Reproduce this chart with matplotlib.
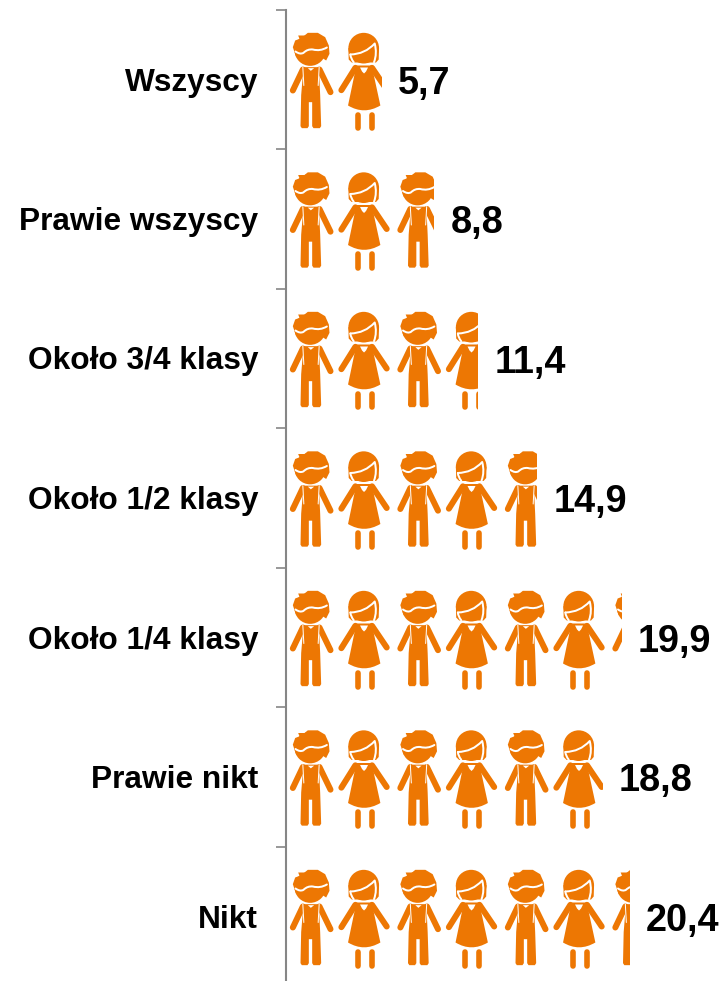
import matplotlib
matplotlib.use('Agg')
import matplotlib.pyplot as plt
from matplotlib.path import Path
from matplotlib.patches import PathPatch
from matplotlib.transforms import Affine2D, ScaledTranslation

plt.rcParams['font.family'] = ['Liberation Sans', 'DejaVu Sans']

labels = ['Wszyscy', 'Prawie wszyscy', 'Około 3/4 klasy', 'Około 1/2 klasy',
          'Około 1/4 klasy', 'Prawie nikt', 'Nikt']
values = [5.7, 8.8, 11.4, 14.9, 19.9, 18.8, 20.4]

ORANGE = '#ED7703'
GRAY = '#868686'
W, H = 720, 981
X0 = 286        # pixel of the axis
PX_PER_UNIT = 16.86
ROW_H = 139.5
ROW0 = 79.5

# icon centres, in px from the axis
BOY_X = 24.5
GIRL_X = 77.7
PERIOD = 107.5


def poly(pts):
    codes = [Path.MOVETO] + [Path.LINETO] * (len(pts) - 1) + [Path.CLOSEPOLY]
    return Path(pts + [pts[0]], codes)


def line(pts):
    return Path(pts, [Path.MOVETO] + [Path.LINETO] * (len(pts) - 1))


def curve(pts):
    # smooth line through control points
    return Path(pts, [Path.MOVETO] + [Path.CURVE3] * (len(pts) - 1))


# icons are traced on a 3x grid, (cx, 238) is the middle of the icon
boy_parts = [
    ('line', line([(98, 208), (68, 271)]), 6.0),
    ('line', line([(148, 208), (181, 276)]), 6.0),
    ('fill', poly([(100, 201), (146, 201), (150, 285), (153, 378), (149, 384),
                   (130, 384), (126, 378), (126, 306), (116, 306), (116, 378),
                   (112, 384), (95, 384), (91, 378), (93, 285)]), 0),
    ('white', line([(98, 201), (101, 256)]), 1.0),
    ('white', line([(147, 201), (144, 256)]), 1.0),
    ('wfill', poly([(113, 204), (132, 204), (122, 212)]), 0),
    ('fill', Path.circle((120, 150), 47), 0),
    ('fill', poly([(68, 141), (75, 121), (88, 116), (84, 106), (103, 106),
                   (113, 98), (143, 98), (165, 111), (176, 136), (178, 161),
                   (168, 181), (120, 150), (78, 171)]), 0),
    ('white', curve([(76, 154), (90, 164), (100, 158), (112, 146), (128, 148),
                     (150, 154), (170, 142)]), 2.0),
]

girl_parts = [
    ('line', line([(256, 203), (214, 270)]), 6.0),
    ('line', line([(306, 203), (350, 268)]), 6.0),
    ('fill', Path([(259, 196), (305, 196), (331, 316), (282, 345), (234, 316), (259, 196)],
                  [Path.MOVETO, Path.LINETO, Path.LINETO, Path.CURVE3, Path.CURVE3,
                   Path.CLOSEPOLY]), 0),
    ('wfill', poly([(270, 202), (294, 202), (288, 214), (282, 220), (276, 214)]), 0),
    ('line', line([(262.5, 344), (262.5, 385)]), 5.6),
    ('line', line([(305.5, 344), (305.5, 385)]), 5.6),
    ('fill', Path.circle((281, 144), 46), 0),
    ('fill', poly([(235, 144), (327, 144), (326, 178), (318, 187), (245, 187), (236, 178)]), 0),
    ('white', curve([(241, 163), (285, 162), (314, 130), (322, 160), (312, 186)]), 2.0),
    ('white', curve([(241, 163), (242, 175), (251, 186)]), 2.0),
]

fig = plt.figure(figsize=(W / 100, H / 100), dpi=100)
ax = fig.add_axes([0, 0, 1, 1])
ax.set_xlim(-X0 / PX_PER_UNIT, (W - X0) / PX_PER_UNIT)
ax.set_ylim((H - ROW0) / ROW_H, -ROW0 / ROW_H)

for s in ['top', 'right', 'bottom']:
    ax.spines[s].set_visible(False)
ax.spines['left'].set_position(('data', 0))
ax.spines['left'].set_color(GRAY)
ax.spines['left'].set_linewidth(1.5)
ax.spines['left'].set_bounds(-0.5, (H - ROW0) / ROW_H)
ax.patch.set_visible(False)

rows = list(range(len(labels)))
ax.set_xticks([])
ax.set_yticks([r - 0.5 for r in rows])
ax.set_yticklabels([])
ax.tick_params(axis='y', which='major', length=7, width=1.2, color=GRAY)
ax.set_yticks(rows, labels, minor=True)
ax.tick_params(axis='y', which='minor', length=0, pad=20, labelsize=22.8)
label_shift = ScaledTranslation(0, -11 / 100, fig.dpi_scale_trans)
for t in ax.get_yticklabels(minor=True):
    t.set_fontweight('bold')
    t.set_verticalalignment('baseline')
    t.set_transform(t.get_transform() + label_shift)


def draw_icon(parts, cx_ref, px, py, clip):
    tr = Affine2D().translate(-cx_ref, -238).scale(1 / 3, -1 / 3).translate(px, py)
    for kind, path, lw in parts:
        if kind == 'fill':
            p = PathPatch(path, fc=ORANGE, ec='none', transform=tr)
        elif kind == 'wfill':
            p = PathPatch(path, fc='white', ec='none', transform=tr)
        else:
            col = ORANGE if kind == 'line' else 'white'
            p = PathPatch(path, fc='none', ec=col, lw=lw * 0.72, capstyle='round',
                          joinstyle='round', transform=tr)
        ax.add_artist(p)
        p.set_clip_path(clip.get_path(), clip.get_transform())


fig.canvas.draw()
bars = ax.barh(rows, values, height=1.0, facecolor='none', edgecolor='none')

for r, v, bar in zip(rows, values, bars):
    py = ax.transData.transform((0, r))[1]
    n = 0
    while (BOY_X - 30 + PERIOD * n / 2) / PX_PER_UNIT < v:
        base = PERIOD * (n // 2)
        if n % 2 == 0:
            parts, ref, off = boy_parts, 121, BOY_X
        else:
            parts, ref, off = girl_parts, 281, GIRL_X
        draw_icon(parts, ref, X0 + base + off, py, bar)
        n += 1
    ax.annotate(str(v).replace('.', ','), (v, r), xytext=(11.5, -10.4),
                textcoords='offset points', ha='left', va='baseline',
                fontsize=27.3, fontweight='bold', color='black')

fig.savefig('out.png', dpi=100)
